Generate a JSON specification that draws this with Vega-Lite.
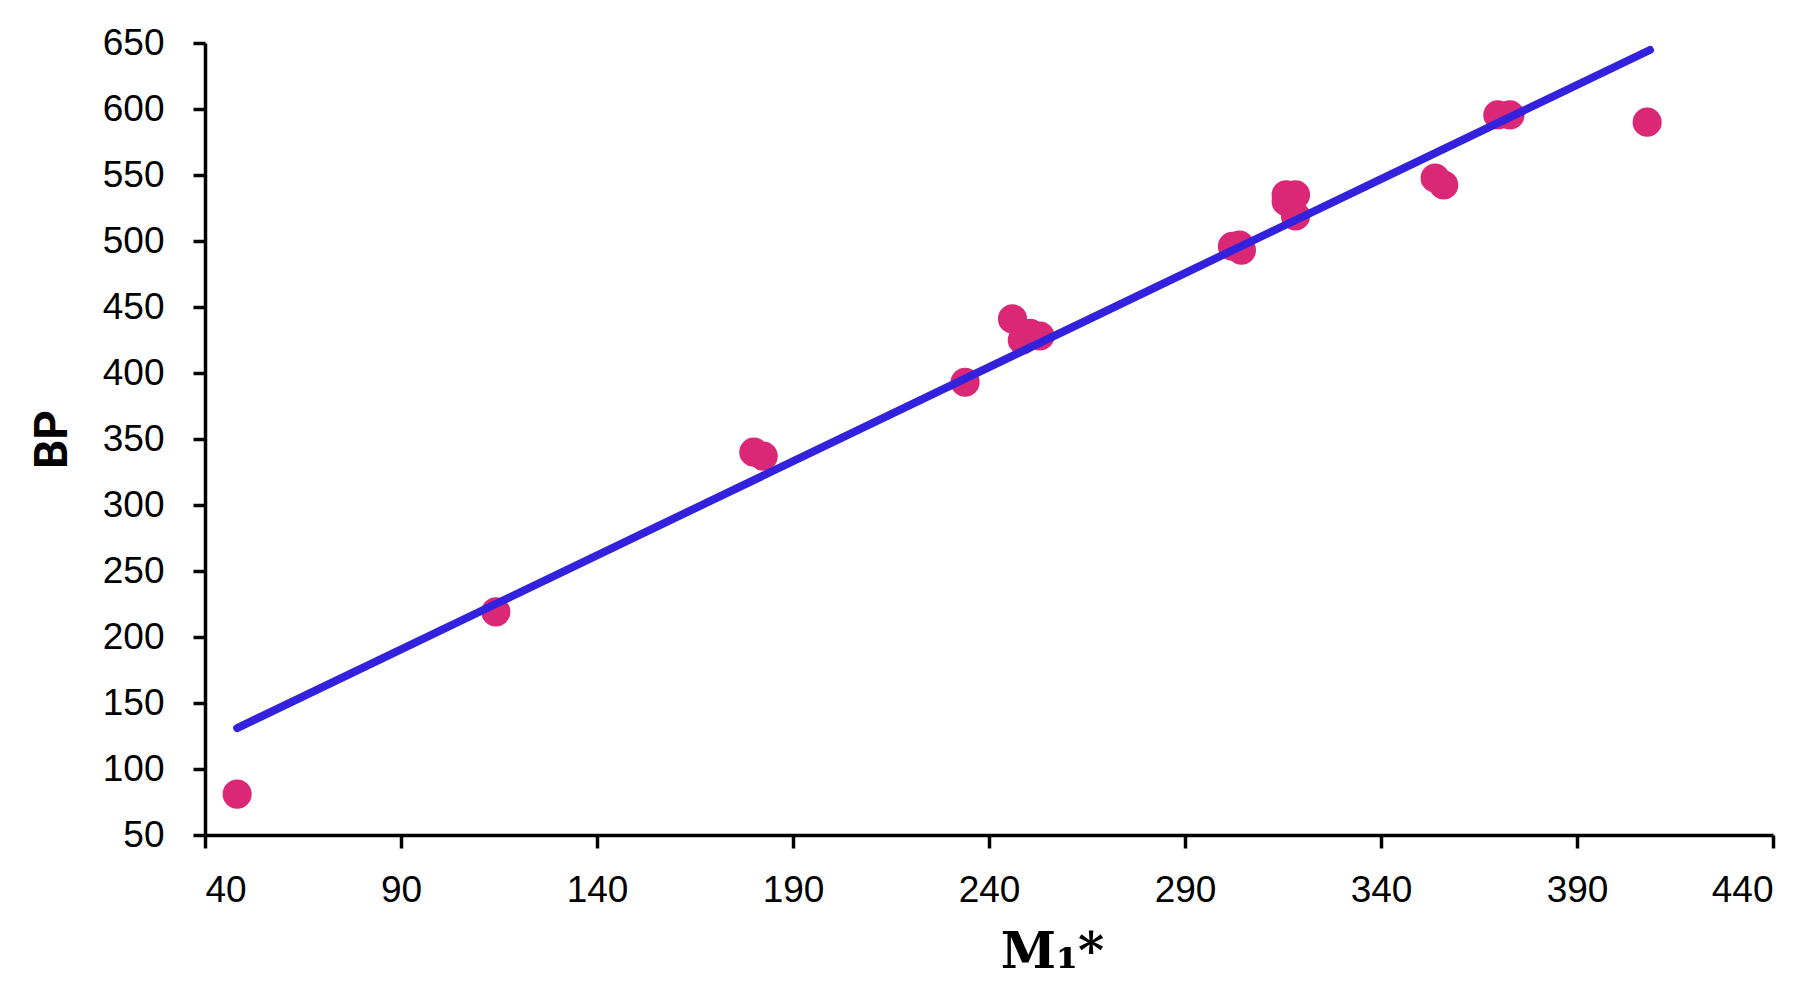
{
  "$schema": "https://vega.github.io/schema/vega-lite/v6.json",
  "width": 1568,
  "height": 792,
  "autosize": {"type": "none"},
  "padding": {"left": 205, "top": 43, "right": 46, "bottom": 165},
  "background": "white",
  "config": {
    "view": {"stroke": null},
    "axis": {
      "grid": false,
      "domainColor": "black",
      "domainWidth": 3.5,
      "tickColor": "black",
      "tickWidth": 3.5,
      "labelFont": "Liberation Sans",
      "labelFontSize": 37,
      "labelColor": "black",
      "titleColor": "black"
    }
  },
  "datasets": {
    "points": [
      {"M1": 48.2, "BP": 81},
      {"M1": 114.2, "BP": 219},
      {"M1": 180, "BP": 340},
      {"M1": 182.4, "BP": 337},
      {"M1": 233.9, "BP": 393},
      {"M1": 246.0, "BP": 441},
      {"M1": 248.5, "BP": 425},
      {"M1": 250.5, "BP": 430},
      {"M1": 253, "BP": 428},
      {"M1": 302.1, "BP": 496},
      {"M1": 303.9, "BP": 497},
      {"M1": 304.4, "BP": 493},
      {"M1": 315.8, "BP": 535},
      {"M1": 318.2, "BP": 535},
      {"M1": 315.8, "BP": 530},
      {"M1": 318.2, "BP": 519},
      {"M1": 353.8, "BP": 547.7},
      {"M1": 356.0, "BP": 542.4},
      {"M1": 369.8, "BP": 595.5},
      {"M1": 372.9, "BP": 595.5},
      {"M1": 407.9, "BP": 590}
    ],
    "fit": [
      {"M1": 48.2, "BP": 131},
      {"M1": 408.6, "BP": 644.7}
    ]
  },
  "layer": [
    {
      "data": {"name": "points"},
      "mark": {"type": "circle", "size": 850, "opacity": 1, "color": "#DA2877"},
      "encoding": {
        "x": {
          "field": "M1",
          "type": "quantitative",
          "scale": {"domain": [40, 440], "nice": false, "zero": false},
          "axis": {
            "values": [40, 90, 140, 190, 240, 290, 340, 390, 440],
            "tickSize": 13,
            "labelPadding": 24,
            "title": "M₁*",
            "titleFont": "DejaVu Serif",
            "titleFontWeight": "bold",
            "titleFontSize": 50,
            "titleBaseline": "alphabetic",
            "titleX": 847,
            "titleY": 132
          }
        },
        "y": {
          "field": "BP",
          "type": "quantitative",
          "scale": {"domain": [50, 650], "nice": false, "zero": false},
          "axis": {
            "values": [50, 100, 150, 200, 250, 300, 350, 400, 450, 500, 550, 600, 650],
            "tickSize": 12,
            "labelPadding": 29,
            "title": "BP",
            "titleFont": "Roboto",
            "titleFontWeight": "bold",
            "titleFontSize": 46,
            "titleBaseline": "middle",
            "titleX": -153
          }
        }
      }
    },
    {
      "data": {"name": "fit"},
      "mark": {"type": "line", "color": "#3322DD", "strokeWidth": 8, "strokeCap": "round"},
      "encoding": {
        "x": {"field": "M1", "type": "quantitative"},
        "y": {"field": "BP", "type": "quantitative"}
      }
    }
  ]
}
